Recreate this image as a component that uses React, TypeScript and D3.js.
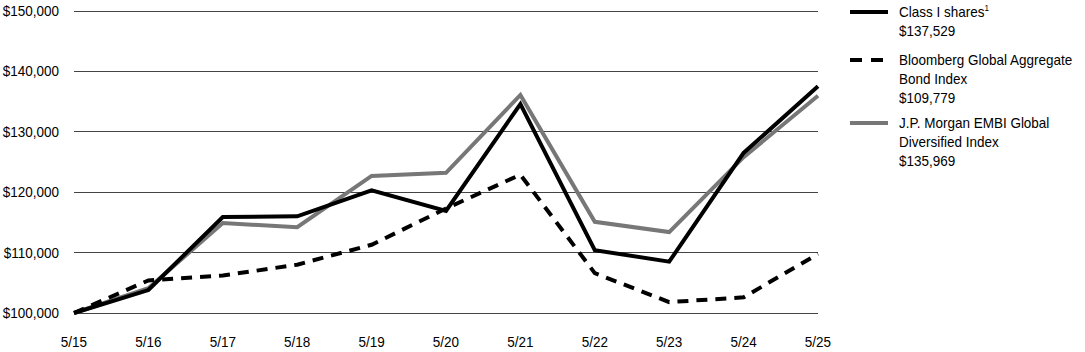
import React, { useEffect, useRef } from "react";
import * as d3 from "d3";

const periods = ["5/15", "5/16", "5/17", "5/18", "5/19", "5/20", "5/21", "5/22", "5/23", "5/24", "5/25"];
const classI = [100000, 103800, 115900, 116000, 120300, 116900, 134600, 110400, 108500, 126500, 137529];
const bloomberg = [100000, 105400, 106200, 108000, 111300, 117300, 122900, 106600, 101800, 102600, 109779];
const jpMorgan = [100000, 104100, 114900, 114200, 122700, 123200, 136100, 115100, 113400, 125800, 135969];
const yTicks = [100000, 110000, 120000, 130000, 140000, 150000];

const series = [
  { name: ["Class I shares", "$137,529"], values: classI, color: "#000", dash: null, sup: "1" },
  { name: ["Bloomberg Global Aggregate", "Bond Index", "$109,779"], values: bloomberg, color: "#000", dash: "11,8", sup: null },
  { name: ["J.P. Morgan EMBI Global", "Diversified Index", "$135,969"], values: jpMorgan, color: "#777", dash: null, sup: null },
];

const FONT = "'Liberation Sans', Arial, sans-serif";
const SX = 0.9; // horizontal squeeze to mimic a condensed face

export default function App() {
  const ref = useRef<SVGSVGElement>(null);

  useEffect(() => {
    const svg = d3.select(ref.current);
    svg.selectAll("*").remove();

    const width = 1085;
    const height = 352;
    const left = 74, right = 818, top = 11, bottom = 313;

    const x = d3.scalePoint().domain(periods).range([left, right]);
    const y = d3.scaleLinear().domain([100000, 150000]).range([bottom, top]);

    svg.attr("width", width).attr("height", height);

    const label = (g: any, tx: number, ty: number, anchor: string, t: string) =>
      g.append("text")
        .attr("transform", `translate(${tx},${ty}) scale(${SX},1)`)
        .attr("text-anchor", anchor)
        .attr("font-family", FONT)
        .attr("font-size", 15)
        .attr("fill", "#000")
        .text(t);

    // grid
    svg.append("g")
      .selectAll("line")
      .data(yTicks)
      .enter()
      .append("line")
      .attr("x1", left)
      .attr("x2", right)
      .attr("y1", (d) => y(d))
      .attr("y2", (d) => y(d))
      .attr("stroke", "#444")
      .attr("stroke-width", 1)
      .attr("shape-rendering", "crispEdges");

    // y labels
    const yl = svg.append("g");
    yTicks.forEach((d) => label(yl, 59, y(d) + 5, "end", "$" + d3.format(",")(d)));

    // x labels
    const xl = svg.append("g");
    periods.forEach((d) => label(xl, x(d)!, 347, "middle", d));

    const line = d3.line<number>()
      .x((_, i) => x(periods[i])!)
      .y((d) => y(d));

    // grey first, then dashed, then solid black on top
    [series[2], series[1], series[0]].forEach((s) => {
      svg.append("path")
        .datum(s.values)
        .attr("fill", "none")
        .attr("stroke", s.color)
        .attr("stroke-width", 4)
        .attr("stroke-linejoin", "miter")
        .attr("stroke-dasharray", s.dash)
        .attr("d", line);
    });

    // legend
    const legendTops = [12, 60, 123];
    const lineH = 19;
    series.forEach((s, i) => {
      const g = svg.append("g").attr("transform", `translate(850,${legendTops[i]})`);
      g.append("line")
        .attr("x1", 0)
        .attr("x2", 38)
        .attr("y1", 0)
        .attr("y2", 0)
        .attr("stroke", s.color)
        .attr("stroke-width", 4)
        .attr("stroke-dasharray", s.dash ? "12,9" : null);
      s.name.forEach((t, j) => {
        const txt = label(g, 49, 5 + j * lineH, "start", t);
        if (j === 0 && s.sup) {
          txt.append("tspan")
            .attr("font-size", 9)
            .attr("dy", -6)
            .text(s.sup);
        }
      });
    });
  }, []);

  return (
    <div style={{ position: "absolute", left: 0, top: 0 }}>
      <svg ref={ref}></svg>
    </div>
  );
}
